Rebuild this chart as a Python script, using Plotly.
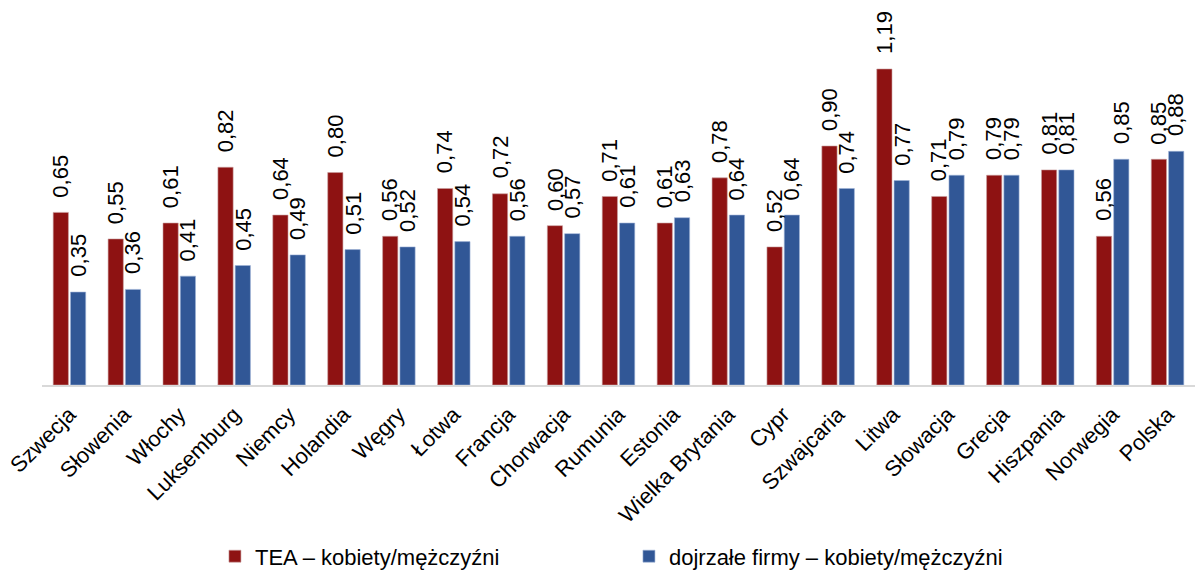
import plotly.graph_objects as go

countries = ["Szwecja", "Słowenia", "Włochy", "Luksemburg", "Niemcy", "Holandia", "Węgry",
             "Łotwa", "Francja", "Chorwacja", "Rumunia", "Estonia", "Wielka Brytania", "Cypr",
             "Szwajcaria", "Litwa", "Słowacja", "Grecja", "Hiszpania", "Norwegia", "Polska"]
tea = [0.65, 0.55, 0.61, 0.82, 0.64, 0.80, 0.56, 0.74, 0.72, 0.60, 0.71, 0.61, 0.78, 0.52,
       0.90, 1.19, 0.71, 0.79, 0.81, 0.56, 0.85]
mature = [0.35, 0.36, 0.41, 0.45, 0.49, 0.51, 0.52, 0.54, 0.56, 0.57, 0.61, 0.63, 0.64, 0.64,
          0.74, 0.77, 0.79, 0.79, 0.81, 0.85, 0.88]

RED = "#8E1212"
BLUE = "#315796"
FONT = "Liberation Sans, Arial, sans-serif"
BARGAP = 0.37
GROUPGAP = 0.12

fig = go.Figure()
fig.add_trace(go.Bar(x=countries, y=tea, name="TEA – kobiety/mężczyźni",
                     marker=dict(color=RED, line=dict(color="#c9a0a0", width=0.6))))
fig.add_trace(go.Bar(x=countries, y=mature, name="dojrzałe firmy – kobiety/mężczyźni",
                     marker=dict(color=BLUE, line=dict(color="#9fb3d6", width=0.6))))

# value labels above each bar, rotated, with comma decimals
slot = (1 - BARGAP) / 2
for series, shift in ((tea, -slot / 2), (mature, slot / 2)):
    for i, v in enumerate(series):
        fig.add_annotation(x=i + shift, y=v, xref="x", yref="y",
                           text=f"{v:.2f}".replace(".", ","), showarrow=False,
                           textangle=-90, yanchor="bottom", xanchor="center",
                           yshift=14, borderpad=0,
                           font=dict(family=FONT, size=22, color="#000000"))

fig.update_layout(
    width=1195, height=573,
    margin=dict(l=42, r=0, t=5, b=188, autoexpand=False),
    paper_bgcolor="white", plot_bgcolor="white",
    barmode="group", bargap=BARGAP, bargroupgap=GROUPGAP,
    font=dict(family=FONT, color="#000000"),
    showlegend=True,
    legend=dict(orientation="h", x=0.150, xanchor="left",
                yref="container", y=0.029, yanchor="middle",
                entrywidth=369, font=dict(family=FONT, size=22, color="#000000"),
                itemclick=False),
)
fig.update_xaxes(type="category", showline=True, linecolor="#d9d9d9", linewidth=2,
                 ticks="", tickangle=-45, ticklabelstandoff=6, automargin=False,
                 tickfont=dict(family=FONT, size=22, color="#000000"),
                 showgrid=False, zeroline=False)
fig.update_yaxes(range=[0, 1.431], visible=False, showgrid=False, zeroline=False,
                 automargin=False)

fig.write_html("out.html")
